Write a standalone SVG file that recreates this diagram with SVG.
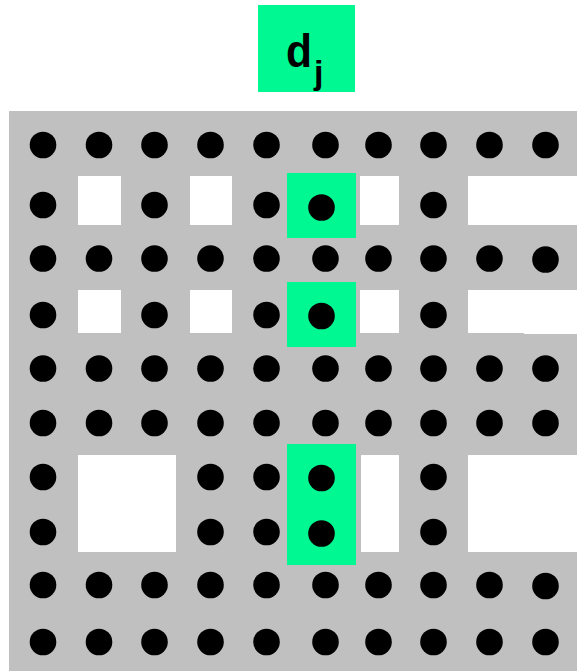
<svg xmlns="http://www.w3.org/2000/svg" width="577" height="671" viewBox="0 0 577 671">
<style>
.bg{fill:#c0c0c0}
.hole{fill:#ffffff}
.hl{fill:#00f892}
.dot{fill:#000000}
.lbl{font-family:"Liberation Sans","DejaVu Sans",sans-serif;font-weight:bold;fill:#000000}
</style>
<defs>
<circle id="d" r="13.3" class="dot"/>
</defs>
<rect width="577" height="671" fill="#ffffff"/>
<g id="label">
<rect x="258" y="5" width="97" height="87" class="hl"/>
<text x="286" y="67" class="lbl" font-size="46" textLength="26" lengthAdjust="spacingAndGlyphs">d</text>
<text x="314" y="84" class="lbl" font-size="34">j</text>
</g>
<g id="grid">
<rect x="9" y="111" width="568" height="560" class="bg"/>
<g id="holes">
<rect x="78" y="176" width="43" height="49" class="hole"/>
<rect x="190" y="176" width="42" height="49" class="hole"/>
<rect x="360" y="176" width="39" height="49" class="hole"/>
<rect x="468" y="176" width="109" height="49" class="hole"/>
<rect x="78" y="290" width="43" height="43" class="hole"/>
<rect x="190" y="290" width="42" height="43" class="hole"/>
<rect x="360" y="290" width="39" height="43" class="hole"/>
<rect x="468" y="290" width="109" height="43" class="hole"/>
<rect x="524" y="290" width="53" height="44" class="hole"/>
<rect x="78" y="455" width="98" height="97" class="hole"/>
<rect x="361" y="455" width="38" height="97" class="hole"/>
<rect x="468" y="455" width="109" height="97" class="hole"/>
</g>
<g id="highlights">
<rect x="287" y="173" width="69" height="65" class="hl"/>
<rect x="287" y="282" width="69" height="65" class="hl"/>
<rect x="287" y="444" width="69" height="121" class="hl"/>
</g>
<g id="dots">
<g id="row1">
<use href="#d" x="43" y="145"/><use href="#d" x="99" y="145"/><use href="#d" x="154.5" y="145"/><use href="#d" x="210.5" y="145"/><use href="#d" x="266.5" y="145"/><use href="#d" x="325.5" y="145"/><use href="#d" x="378.5" y="145"/><use href="#d" x="433.5" y="145"/><use href="#d" x="489.5" y="145"/><use href="#d" x="545.5" y="145"/>
</g>
<g id="row2">
<use href="#d" x="43" y="205"/><use href="#d" x="154.5" y="205"/><use href="#d" x="266.5" y="205"/><use href="#d" x="321.5" y="207.5"/><use href="#d" x="433.5" y="205"/>
</g>
<g id="row3">
<use href="#d" x="43" y="258.5"/><use href="#d" x="99" y="258.5"/><use href="#d" x="154.5" y="258.5"/><use href="#d" x="210.5" y="258.5"/><use href="#d" x="266.5" y="258.5"/><use href="#d" x="325.5" y="258.5"/><use href="#d" x="378.5" y="258.5"/><use href="#d" x="433.5" y="258.5"/><use href="#d" x="489.5" y="258.5"/><use href="#d" x="545.5" y="259.5"/>
</g>
<g id="row4">
<use href="#d" x="43" y="315"/><use href="#d" x="154.5" y="315"/><use href="#d" x="266.5" y="315"/><use href="#d" x="321.5" y="316"/><use href="#d" x="433.5" y="315"/>
</g>
<g id="row5">
<use href="#d" x="43" y="368.5"/><use href="#d" x="99" y="368.5"/><use href="#d" x="154.5" y="368.5"/><use href="#d" x="210.5" y="368.5"/><use href="#d" x="266.5" y="368.5"/><use href="#d" x="325.5" y="368.5"/><use href="#d" x="378.5" y="368.5"/><use href="#d" x="433.5" y="368.5"/><use href="#d" x="489.5" y="368.5"/><use href="#d" x="545.5" y="368.5"/>
</g>
<g id="row6">
<use href="#d" x="43" y="423"/><use href="#d" x="99" y="423"/><use href="#d" x="154.5" y="423"/><use href="#d" x="210.5" y="423"/><use href="#d" x="266.5" y="423"/><use href="#d" x="325.5" y="423"/><use href="#d" x="378.5" y="423"/><use href="#d" x="433.5" y="423"/><use href="#d" x="489.5" y="423"/><use href="#d" x="545.5" y="423"/>
</g>
<g id="row7">
<use href="#d" x="43" y="477"/><use href="#d" x="210.5" y="477"/><use href="#d" x="266.5" y="477"/><use href="#d" x="321.5" y="478"/><use href="#d" x="433.5" y="477"/>
</g>
<g id="row8">
<use href="#d" x="43" y="532"/><use href="#d" x="210.5" y="532"/><use href="#d" x="266.5" y="532"/><use href="#d" x="321.5" y="533.5"/><use href="#d" x="433.5" y="532"/>
</g>
<g id="row9">
<use href="#d" x="43" y="585"/><use href="#d" x="99" y="585"/><use href="#d" x="154.5" y="585"/><use href="#d" x="210.5" y="585"/><use href="#d" x="266.5" y="585"/><use href="#d" x="325.5" y="585"/><use href="#d" x="378.5" y="585"/><use href="#d" x="433.5" y="585"/><use href="#d" x="489.5" y="585"/><use href="#d" x="545.5" y="586"/>
</g>
<g id="row10">
<use href="#d" x="43" y="642"/><use href="#d" x="99" y="642"/><use href="#d" x="154.5" y="642"/><use href="#d" x="210.5" y="642"/><use href="#d" x="266.5" y="642"/><use href="#d" x="325.5" y="642"/><use href="#d" x="378.5" y="642"/><use href="#d" x="433.5" y="642"/><use href="#d" x="489.5" y="642"/><use href="#d" x="545.5" y="642"/>
</g>
</g>
</g>
</svg>
